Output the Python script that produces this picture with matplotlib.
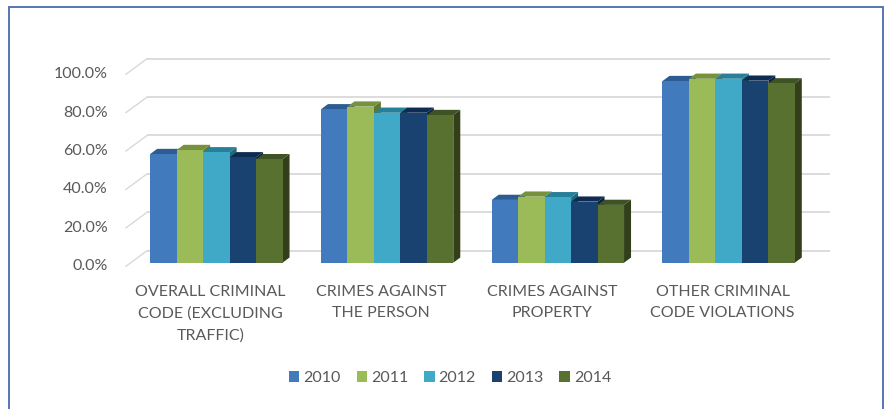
import matplotlib
matplotlib.use("Agg")
import matplotlib.pyplot as plt
from matplotlib.patches import Rectangle, Polygon, Patch

# ---------------- data ----------------
categories = [
    "OVERALL CRIMINAL\nCODE (EXCLUDING\nTRAFFIC)",
    "CRIMES AGAINST\nTHE PERSON",
    "CRIMES AGAINST\nPROPERTY",
    "OTHER CRIMINAL\nCODE VIOLATIONS",
]
years = ["2010", "2011", "2012", "2013", "2014"]
v2010 = [56.6, 79.9, 32.7, 94.6]
v2011 = [58.7, 81.3, 34.4, 95.8]
v2012 = [57.5, 78.1, 34.1, 95.8]
v2013 = [54.9, 78.1, 31.8, 94.8]
v2014 = [53.9, 76.9, 30.1, 93.4]
series = [v2010, v2011, v2012, v2013, v2014]
yticks = [0, 20, 40, 60, 80, 100]
ytick_labels = ["0.0%", "20.0%", "40.0%", "60.0%", "80.0%", "100.0%"]

# ---------------- style ----------------
front_colors = ["#427BBD", "#9BBB59", "#3FA9C7", "#1A4270", "#587131"]
cap_colors = ["#2D5C93", "#76923C", "#27809A", "#0E2C52", "#3F5223"]
side_colors = ["#25497A", "#5F7830", "#1F6A80", "#0A2240", "#323F1A"]
text_color = "#595959"
grid_color = "#D9D9D9"
FONT = "Lato"
FS = 11.5

W, H = 884, 409
fig = plt.figure(figsize=(W / 100, H / 100), dpi=100)
fig.patch.set_facecolor("white")

# outer border (bottom edge lies outside the image)
fig.add_artist(Rectangle((8.5 / W, -0.2), (882.5 - 8.5) / W, 1.2 - 7 / H,
                         transform=fig.transFigure, facecolor="none",
                         edgecolor="#4A6AB0", lw=1.3))

# axes = front plane of the bars
ax_left, ax_w = 131, 683
ax_bottom_px, ax_h = 262.7, 192
ax = fig.add_axes([ax_left / W, (H - ax_bottom_px) / H, ax_w / W, ax_h / H])
ax.set_xlim(-0.5, len(categories) - 0.5)
ax.set_ylim(0, 100)
ax.axis("off")

sx = ax_w / len(categories)   # px per x unit
sy = ax_h / 100.0             # px per y unit

# depth offsets (pixels) -> data units
back_dx, back_dy = 16 / sx, 12 / sy      # back wall relative to bar front
floor_dx, floor_dy = -5 / sx, -3.5 / sy  # floor front edge relative to bar front
bar_dx, bar_dy = 7 / sx, 5.2 / sy        # bar depth

x0, x1 = -0.5, len(categories) - 0.5
for v, lab in zip(yticks, ytick_labels):
    ax.plot([x0 + back_dx, x1 + back_dx], [v + back_dy, v + back_dy],
            color=grid_color, lw=1.3, clip_on=False, zorder=1,
            solid_capstyle="butt")
    ax.plot([x0 + floor_dx, x0 + back_dx], [v + floor_dy, v + back_dy],
            color=grid_color, lw=1.0, clip_on=False, zorder=1)
    ax.text(x0 - 23.5 / sx, v + floor_dy, lab, ha="right", va="center",
            fontsize=FS, color=text_color, family=FONT, clip_on=False)

nser = len(series)
bw = 0.155
z = 2
for i in range(len(categories)):
    start = i - bw * nser / 2
    for j, vals in enumerate(series):
        v = vals[i]
        xl = start + j * bw
        xr = xl + bw
        # right side face
        ax.add_patch(Polygon([(xr, 0), (xr, v), (xr + bar_dx, v + bar_dy),
                              (xr + bar_dx, bar_dy)], closed=True,
                             facecolor=side_colors[j], edgecolor="none",
                             zorder=z, clip_on=False))
        # top cap
        ax.add_patch(Polygon([(xl, v), (xr, v), (xr + bar_dx, v + bar_dy),
                              (xl + bar_dx, v + bar_dy)], closed=True,
                             facecolor=cap_colors[j], edgecolor="none",
                             zorder=z, clip_on=False))
        # front face
        ax.add_patch(Rectangle((xl, 0), bw, v, facecolor=front_colors[j],
                               edgecolor="none", zorder=z, clip_on=False))
        z += 1

for i, cat in enumerate(categories):
    ax.text(i - 6 / sx, -22 / sy, cat, ha="center", va="top", fontsize=FS,
            color=text_color, family=FONT, linespacing=1.68, clip_on=False)

handles = [Patch(facecolor=c, edgecolor="none") for c in front_colors]
leg = fig.legend(handles, years, loc="center", bbox_to_anchor=(450 / W, 1 - 378 / H),
                 ncol=5, frameon=False, handlelength=0.65, handleheight=0.65,
                 handletextpad=0.25, columnspacing=1.0,
                 prop={"family": FONT, "size": FS})
for t in leg.get_texts():
    t.set_color(text_color)

fig.savefig("out.png", dpi=100, facecolor="white")
